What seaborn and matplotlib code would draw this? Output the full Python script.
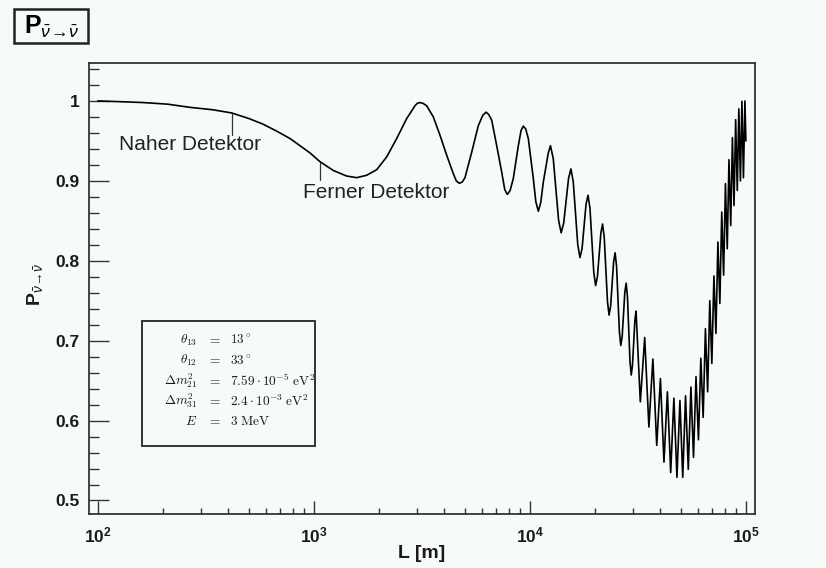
import numpy as np
import pandas as pd
import matplotlib
matplotlib.use("Agg")
import matplotlib.pyplot as plt
import seaborn as sns
from matplotlib.ticker import FixedLocator, FixedFormatter, LogLocator, NullFormatter
from matplotlib.patches import Rectangle

# ---------------- data ----------------
# baseline distance L [m] and survival probability P
L_m = [
    100, 130, 162, 210, 267, 340, 416, 500, 581, 675, 775, 862, 959, 1067,
    1230, 1419, 1578, 1755, 1953, 2173, 2417, 2689, 2938, 3010, 3099, 3200,
    3328, 3571, 3836, 4120, 4420, 4560, 4711, 4860, 5005, 5378, 5769, 6050,
    6264, 6450, 6655, 7020, 7403, 7650, 7862, 8100, 8378, 8838, 9100, 9320,
    9560, 9831, 10369, 10650, 10937, 11230, 11535, 12168, 12450,
    12825, 13575, 13950, 14333, 15098, 15480, 15873, 16658, 17050, 17433,
    18198, 18580, 18973, 19758, 20150, 20538, 21313, 21700, 22088, 22863,
    23250, 23638, 24413, 24800, 25188, 25963, 26350, 26738, 27513, 27900,
    28288, 29063, 29450, 29838, 30613, 31000,
    32450, 34000, 35550, 37100, 38650, 40200, 41750, 43300,
    44850, 46400, 47950, 49500, 51000, 52550, 54100, 55650, 57200, 58750,
    60300, 61850, 63400, 64950, 66500, 68050, 69550, 71100, 72650, 74200,
    75750, 77300, 78850, 80400, 81950, 83500, 85050, 86600, 88100, 89650,
    91200, 92750, 94300, 95850, 97400, 98950, 100000,
]
P_vals = [
    1.000, 0.999, 0.998, 0.996, 0.992, 0.989, 0.985, 0.978, 0.971, 0.962,
    0.953, 0.944, 0.935, 0.924, 0.913, 0.906, 0.904, 0.907, 0.914, 0.930,
    0.953, 0.978, 0.994, 0.997, 0.998, 0.997,
    0.994, 0.980, 0.957, 0.932, 0.909, 0.900, 0.897, 0.8985, 0.904, 0.936, 0.969, 0.982,
    0.986, 0.983, 0.976, 0.944, 0.911, 0.889, 0.883, 0.888, 0.903, 0.944, 0.963, 0.9685,
    0.965, 0.953, 0.903, 0.874, 0.862, 0.873, 0.8985, 0.935, 0.944,
    0.928, 0.851, 0.835, 0.847, 0.903, 0.915, 0.899, 0.820, 0.804, 0.815,
    0.871, 0.882, 0.8655, 0.7855, 0.769, 0.780, 0.835, 0.846, 0.829, 0.749,
    0.732, 0.743, 0.799, 0.810, 0.793, 0.711, 0.694, 0.705, 0.761, 0.772,
    0.755, 0.674, 0.657, 0.669, 0.725, 0.737,
    0.6235, 0.704, 0.592, 0.677, 0.569, 0.6525, 0.548, 0.636,
    0.535, 0.628, 0.529, 0.625, 0.529, 0.631, 0.539, 0.642, 0.554, 0.655,
    0.576, 0.678, 0.604, 0.715, 0.636, 0.750, 0.6715, 0.781, 0.709, 0.8235,
    0.7465, 0.861, 0.782, 0.8965, 0.815, 0.9265, 0.844, 0.954, 0.869, 0.9765,
    0.888, 0.990, 0.900, 0.9995, 0.904, 1.000, 0.950,
]

x_ticks = [1e2, 1e3, 1e4, 1e5]
x_tick_labels = [r"$\mathbf{10^{2}}$", r"$\mathbf{10^{3}}$", r"$\mathbf{10^{4}}$", r"$\mathbf{10^{5}}$"]
y_ticks = [0.5, 0.6, 0.7, 0.8, 0.9, 1.0]
y_tick_labels = ["0.5", "0.6", "0.7", "0.8", "0.9", "1"]

detector_names = ["Naher Detektor", "Ferner Detektor"]
detector_L = [416, 1067]

param_names = [r"$\theta_{13}$", r"$\theta_{12}$", r"$\Delta m^2_{21}$", r"$\Delta m^2_{31}$", r"$E$"]
param_values = [r"$13^\circ$", r"$33^\circ$", r"$7.59\cdot10^{-5}\ \mathrm{eV}^2$",
                r"$2.4\cdot10^{-3}\ \mathrm{eV}^2$", r"$3\ \mathrm{MeV}$"]

# ---------------- style ----------------
BG = "#f6faf8"
INK = "#1a1a1a"
sns.set_style("ticks")
plt.rcParams.update({
    "font.family": ["Liberation Sans", "DejaVu Sans"],
    "mathtext.fontset": "custom",
    "mathtext.rm": "Liberation Sans",
    "mathtext.bf": "Liberation Sans:bold",
    "mathtext.it": "Liberation Sans:italic",
    "mathtext.sf": "Liberation Sans",
    "axes.edgecolor": "#333333",
    "xtick.color": "#333333",
    "ytick.color": "#333333",
})

W, H = 826, 568
fig = plt.figure(figsize=(W / 100, H / 100), dpi=100, facecolor=BG)
ax = fig.add_axes([89 / W, 1 - 514 / H, (755 - 89) / W, (514 - 63) / H])
ax.set_facecolor(BG)

df = pd.DataFrame({"L": L_m, "P": P_vals})
sns.lineplot(data=df, x="L", y="P", ax=ax, color="black", linewidth=1.2,
             estimator=None, sort=False)

ax.set_xscale("log")
ax.set_xlim(10 ** 1.9588, 10 ** 5.0421)
ax.set_ylim(0.4831, 1.0475)

ax.xaxis.set_major_locator(FixedLocator(x_ticks))
ax.xaxis.set_major_formatter(FixedFormatter(x_tick_labels))
ax.xaxis.set_minor_locator(LogLocator(base=10, subs=np.arange(2, 10)))
ax.xaxis.set_minor_formatter(NullFormatter())
ax.yaxis.set_major_locator(FixedLocator(y_ticks))
ax.yaxis.set_major_formatter(FixedFormatter(y_tick_labels))
ax.yaxis.set_minor_locator(FixedLocator([0.52, 0.54, 0.56, 0.58, 0.62, 0.64, 0.66, 0.68,
                                         0.72, 0.74, 0.76, 0.78, 0.82, 0.84, 0.86, 0.88,
                                         0.92, 0.94, 0.96, 0.98, 1.02, 1.04]))

ax.tick_params(which="both", direction="in", top=False, right=False, width=1.0)
ax.tick_params(axis="x", which="major", length=9.5, pad=8)
ax.tick_params(axis="x", which="minor", length=4.5)
ax.tick_params(axis="y", which="major", length=14.5, pad=6.5)
ax.tick_params(axis="y", which="minor", length=7.2)
for lab in ax.get_xticklabels() + ax.get_yticklabels():
    lab.set_fontsize(12.5)
    lab.set_fontweight("bold")
    lab.set_color(INK)
for s in ax.spines.values():
    s.set_linewidth(1.3)
    s.set_visible(True)

ax.set_xlabel("")
ax.set_ylabel("")
fig.text(422 / W, 1 - 553.5 / H, "L [m]", ha="center", va="center",
         fontsize=14, fontweight="bold", color=INK)
fig.text(35 / W, 1 - 284 / H, r"$\mathbf{P}_{\bar{\nu}\!\rightarrow\!\bar{\nu}}$",
         rotation=90, ha="center", va="center", fontsize=14, color=INK)

# detector markers
ax.plot([detector_L[0], detector_L[0]], [0.984, 0.957], color="#333333", lw=0.9)
ax.text(569, 0.938, detector_names[0], ha="right", va="baseline", fontsize=15, color="#222222")
ax.plot([detector_L[1], detector_L[1]], [0.922, 0.9006], color="#333333", lw=0.9)
ax.text(890, 0.879, detector_names[1], ha="left", va="baseline", fontsize=15, color="#222222")

# title box
fig.patches.append(Rectangle((14 / W, 1 - 43 / H), 74 / W, 34 / H, transform=fig.transFigure,
                             facecolor=BG, edgecolor="#222222", lw=1.8))
fig.text(51 / W, 1 - 26.5 / H, r"$\mathbf{P}_{\bar{\nu}\!\rightarrow\!\bar{\nu}}$",
         ha="center", va="center", fontsize=18, color="black")

# parameter box
fig.patches.append(Rectangle((142 / W, 1 - 446 / H), (315 - 142) / W, (446 - 321) / H,
                             transform=fig.transFigure, facecolor=BG, edgecolor="#333333",
                             lw=1.4, zorder=3))
rows_y = [340, 360.5, 381, 401, 421.5]
for name, val, yy in zip(param_names, param_values, rows_y):
    fig.text(197 / W, 1 - yy / H, name, ha="right", va="center", fontsize=9.6,
             math_fontfamily="cm", color=INK, zorder=4)
    fig.text(214 / W, 1 - yy / H, r"$=$", ha="center", va="center", fontsize=9.6,
             math_fontfamily="cm", color=INK, zorder=4)
    fig.text(230 / W, 1 - yy / H, val, ha="left", va="center", fontsize=9.6,
             math_fontfamily="cm", color=INK, zorder=4)

fig.savefig("out.png", dpi=100, facecolor=BG)
